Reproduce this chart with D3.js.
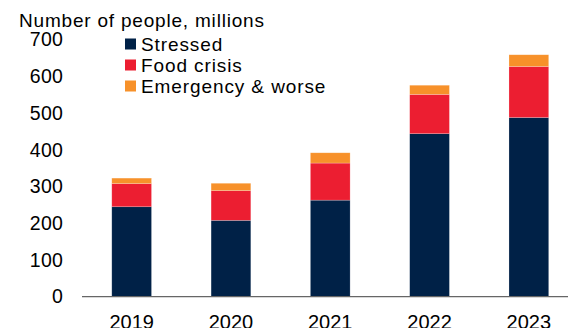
<html>
<head>
<style>
  body { margin: 0; background: #fff; }
  text { font-family: "Liberation Sans", Arial, sans-serif; fill: #000; }
</style>
</head>
<body>
<svg id="chart" width="568" height="328"></svg>
<script src="https://cdnjs.cloudflare.com/ajax/libs/d3/7.8.5/d3.min.js"></script>
<script>
var years = ["2019", "2020", "2021", "2022", "2023"];
var stressed = [245, 208, 263, 444, 488];
var foodCrisis = [63, 81, 101, 107, 139];
var emergency = [15, 20, 28, 25, 32];
var seriesNames = ["Stressed", "Food crisis", "Emergency & worse"];
var yTicks = [0, 100, 200, 300, 400, 500, 600, 700];

var colors = ["#002147", "#ec1e31", "#f7912a"];

var svg = d3.select("#chart");

// rows for the stack
var rows = years.map(function(y, i) {
  return { year: y, "Stressed": stressed[i], "Food crisis": foodCrisis[i], "Emergency & worse": emergency[i] };
});
var stacked = d3.stack().keys(seriesNames)(rows);

var x = d3.scaleBand().domain(years).range([82, 578.5])
  .paddingInner(0.6).paddingOuter(0.3);
var y = d3.scaleLinear().domain([0, 700]).range([296.7, 39.7]);

// y axis labels only
svg.append("g")
  .attr("transform", "translate(63,0)")
  .call(d3.axisLeft(y).tickValues(yTicks).tickSize(0).tickPadding(0))
  .call(function(g) { g.select(".domain").remove(); })
  .selectAll("text")
  .style("font-size", "19.5px")
  .style("letter-spacing", "0.2px")
  .attr("font-family", null);

// bars
svg.append("g").selectAll("g")
  .data(stacked)
  .join("g")
  .attr("fill", function(d, i) { return colors[i]; })
  .selectAll("rect")
  .data(function(d) { return d; })
  .join("rect")
  .attr("x", function(d) { return x(d.data.year); })
  .attr("width", x.bandwidth())
  .attr("y", function(d) { return y(d[1]); })
  .attr("height", function(d) { return y(d[0]) - y(d[1]); })
  .attr("stroke", "#fff")
  .attr("stroke-opacity", 0.35)
  .attr("stroke-width", 0.6);

// x axis
svg.append("g")
  .attr("transform", "translate(0," + y(0) + ")")
  .call(d3.axisBottom(x).tickSize(0))
  .call(function(g) {
    g.select(".domain").attr("d", "M82,0H568").attr("stroke", "#666").attr("stroke-width", 1.2);
  })
  .selectAll("text")
  .attr("y", 32)
  .attr("dy", null)
  .style("font-size", "20px")
  .attr("font-family", null);

// title
svg.append("text")
  .attr("x", 19)
  .attr("y", 26.5)
  .style("font-size", "19px")
  .style("letter-spacing", "0.8px")
  .text("Number of people, millions");

// legend
var legend = svg.append("g").selectAll("g")
  .data(seriesNames)
  .join("g")
  .attr("transform", function(d, i) { return "translate(125," + (44 + i * 21) + ")"; });
legend.append("rect")
  .attr("x", 0).attr("y", -5.5)
  .attr("width", 11).attr("height", 11)
  .attr("fill", function(d, i) { return colors[i]; });
legend.append("text")
  .attr("x", 16)
  .attr("dy", "0.35em")
  .style("font-size", "19px")
  .style("letter-spacing", "0.9px")
  .text(function(d) { return d; });
</script>
</body>
</html>
